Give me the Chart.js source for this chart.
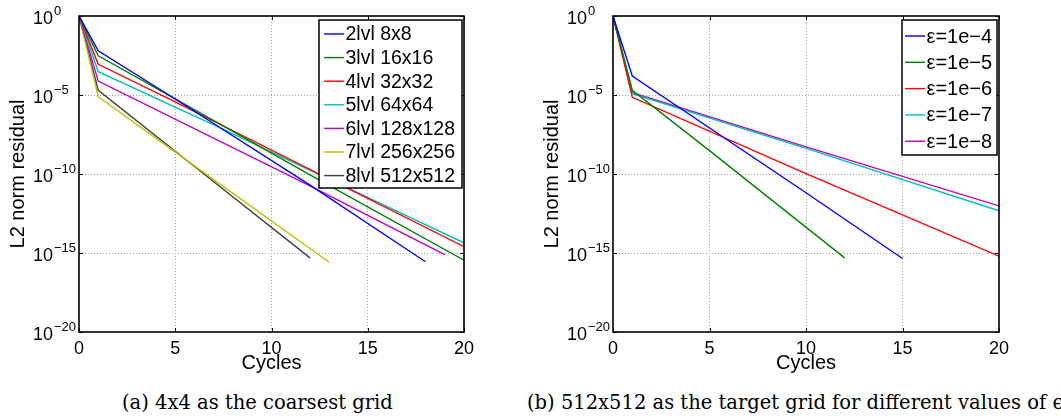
<!DOCTYPE html>
<html><head><meta charset="utf-8">
<script src="https://cdn.jsdelivr.net/npm/chart.js@4.4.0/dist/chart.umd.min.js"></script>
<style>
html,body{margin:0;padding:0;background:#fff;width:1061px;height:419px;overflow:hidden;position:relative}
canvas{position:absolute;top:0}
.cap{position:absolute;top:392px;font-family:"DejaVu Serif",serif;font-size:19.5px;line-height:22px;white-space:nowrap;color:#000}
</style></head><body>
<canvas id="left" width="530" height="380" style="left:0"></canvas>
<canvas id="right" width="527" height="380" style="left:534px"></canvas>
<div class="cap" style="left:122px">(a) 4x4 as the coarsest grid</div>
<div class="cap" style="left:527px">(b) 512x512 as the target grid for different values of ϵ</div>
<script>
// ---- tick labels ----
const xTicks = [0, 5, 10, 15, 20];
const yTickExponents = [0, -5, -10, -15, -20];

// ---- (a) 4x4 as the coarsest grid ----
const leftLabels = ['2lvl 8x8', '3lvl 16x16', '4lvl 32x32', '5lvl 64x64', '6lvl 128x128', '7lvl 256x256', '8lvl 512x512'];
const cycles2 = [0, 1, 5, 12, 18];
const res2    = [1, 6.3e-3, 5.6e-6, 2.0e-11, 2.8e-16];
const cycles3 = [0, 1, 5, 12, 20];
const res3    = [1, 3.0e-3, 5.6e-6, 8.7e-11, 3.5e-16];
const cycles4 = [0, 1, 5, 20];
const res4    = [1, 8.7e-4, 3.7e-6, 2.5e-15];
const cycles5 = [0, 1, 7, 20];
const res5    = [1, 3.0e-4, 1.3e-7, 4.4e-15];
const cycles6 = [0, 1, 12, 19];
const res6    = [1, 7.6e-5, 1.8e-11, 7.9e-16];
const cycles7 = [0, 1, 6, 13];
const res7    = [1, 7.8e-6, 3.3e-10, 2.6e-16];
const cycles8 = [0, 1, 6, 12];
const res8    = [1, 2.0e-5, 3.0e-10, 4.9e-16];

// ---- (b) 512x512 target grid, different epsilon ----
const rightLabels = ['\u03b5=1e\u22124', '\u03b5=1e\u22125', '\u03b5=1e\u22126', '\u03b5=1e\u22127', '\u03b5=1e\u22128'];
const cyclesE4 = [0, 1, 10, 15];
const resE4    = [1, 1.6e-4, 6.5e-12, 4.5e-16];
const cyclesE5 = [0, 1, 5, 12];
const resE5    = [1, 2.0e-5, 3.0e-9, 4.9e-16];
const cyclesE6 = [0, 1, 10, 20];
const resE6    = [1, 7.1e-6, 1.07e-10, 6.3e-16];
const cyclesE7 = [0, 1, 10, 20];
const resE7    = [1, 1.2e-5, 4.2e-9, 4.7e-13];
const cyclesE8 = [0, 1, 10, 20];
const resE8    = [1, 1.4e-5, 5.2e-9, 9.5e-13];

const leftColors  = ['#0000ff', '#008000', '#ff0000', '#00bfbf', '#bf00bf', '#bfbf00', '#404040'];
const rightColors = ['#0000ff', '#008000', '#ff0000', '#00bfbf', '#bf00bf'];

const FONT = '"Liberation Sans", Arial, sans-serif';
Chart.defaults.color = '#000';
Chart.defaults.font.family = FONT;

function pts(cs, rs) { return cs.map((c, i) => ({x: c, y: rs[i]})); }
function makeDatasets(labels, series, colors) {
  return labels.map((l, i) => ({
    label: l, data: pts(series[i][0], series[i][1]),
    borderColor: colors[i], backgroundColor: colors[i],
    borderWidth: 1.4, pointRadius: 0, tension: 0, fill: false
  }));
}

function decorPlugin(leg) {
  return {
    id: 'decor',
    afterDraw(chart) {
      const {ctx, chartArea: a, scales: {x, y}} = chart;
      ctx.save();
      // inward tick marks
      ctx.strokeStyle = '#000'; ctx.lineWidth = 1;
      ctx.beginPath();
      xTicks.forEach(v => {
        const px = Math.round(x.getPixelForValue(v)) + 0.5;
        ctx.moveTo(px, a.bottom); ctx.lineTo(px, a.bottom - 4);
        ctx.moveTo(px, a.top); ctx.lineTo(px, a.top + 4);
      });
      yTickExponents.forEach(e => {
        const py = Math.round(y.getPixelForValue(Math.pow(10, e))) + 0.5;
        ctx.moveTo(a.left, py); ctx.lineTo(a.left + 4, py);
        ctx.moveTo(a.right, py); ctx.lineTo(a.right - 4, py);
      });
      ctx.stroke();
      // frame
      ctx.lineWidth = 1.6;
      ctx.strokeRect(a.left, a.top, a.right - a.left, a.bottom - a.top);
      // y tick labels 10^e
      ctx.fillStyle = '#000'; ctx.textAlign = 'left'; ctx.textBaseline = 'alphabetic';
      yTickExponents.forEach(e => {
        const py = y.getPixelForValue(Math.pow(10, e));
        ctx.font = '18px ' + FONT;
        ctx.fillText('10', 33, py + 7.8);
        const w = ctx.measureText('10').width;
        ctx.font = '13px ' + FONT;
        ctx.fillText(e === 0 ? '0' : '\u2212' + (-e), 33 + w + 1, py - 0.8);
      });
      // legend
      ctx.fillStyle = '#fff';
      ctx.fillRect(leg.x1, leg.y1, leg.x2 - leg.x1, leg.y2 - leg.y1);
      ctx.lineWidth = 1.5; ctx.strokeStyle = '#000';
      ctx.strokeRect(leg.x1, leg.y1, leg.x2 - leg.x1, leg.y2 - leg.y1);
      ctx.font = leg.font + 'px ' + FONT; ctx.textBaseline = 'middle';
      chart.data.datasets.forEach((ds, i) => {
        const cy = leg.row0 + i * leg.step;
        ctx.strokeStyle = ds.borderColor; ctx.lineWidth = 1.4;
        ctx.beginPath(); ctx.moveTo(leg.s1, cy); ctx.lineTo(leg.s2, cy); ctx.stroke();
        ctx.fillStyle = '#000';
        ctx.fillText(ds.label, leg.tx, cy + 1);
      });
      ctx.restore();
    }
  };
}

function makeChart(id, datasets, padRight, leg) {
  return new Chart(document.getElementById(id), {
    type: 'line',
    data: {datasets},
    options: {
      responsive: false, animation: false,
      layout: {padding: {top: 16, right: padRight, left: 0, bottom: 0}},
      plugins: {legend: {display: false}, tooltip: {enabled: false}},
      scales: {
        x: {
          type: 'linear', min: 0, max: 20,
          afterBuildTicks: s => { s.ticks = xTicks.map(v => ({value: v})); },
          afterFit: s => { s.height = 48; },
          ticks: {font: {size: 18}, padding: 6, color: '#000', maxRotation: 0},
          grid: {drawTicks: false, lineWidth: 1,
                 color: c => (c.tick && (c.tick.value === 0 || c.tick.value === 20)) ? 'rgba(0,0,0,0)' : '#a0a0a0'},
          border: {display: false, dash: [1, 2]},
          title: {display: true, text: 'Cycles', font: {size: 20}, padding: {top: 0, bottom: 5}, color: '#000'}
        },
        y: {
          type: 'logarithmic', min: 1e-20, max: 1,
          afterBuildTicks: s => { s.ticks = yTickExponents.map(e => ({value: Math.pow(10, e)})); },
          afterFit: s => { s.width = 79; },
          ticks: {display: false},
          grid: {drawTicks: false, lineWidth: 1,
                 color: c => { if (!c.tick) return '#a0a0a0'; const e = Math.round(Math.log10(c.tick.value)); return (e === 0 || e === -20) ? 'rgba(0,0,0,0)' : '#a0a0a0'; }},
          border: {display: false, dash: [1, 2]},
          title: {display: true, text: 'L2 norm residual', font: {size: 20}, padding: {top: 6, bottom: 0}, color: '#000'}
        }
      }
    },
    plugins: [decorPlugin(leg)]
  });
}

makeChart('left',
  makeDatasets(leftLabels,
    [[cycles2, res2], [cycles3, res3], [cycles4, res4], [cycles5, res5], [cycles6, res6], [cycles7, res7], [cycles8, res8]],
    leftColors),
  66,
  {x1: 319, y1: 20, x2: 462, y2: 188, s1: 324, s2: 344, tx: 345.5, row0: 34, step: 23.6, font: 19.5});

makeChart('right',
  makeDatasets(rightLabels,
    [[cyclesE4, resE4], [cyclesE5, resE5], [cyclesE6, resE6], [cyclesE7, resE7], [cyclesE8, resE8]],
    rightColors),
  62,
  {x1: 368, y1: 20, x2: 463, y2: 155, s1: 371, s2: 391, tx: 392.5, row0: 36, step: 26.3, font: 20});
</script>
</body></html>
